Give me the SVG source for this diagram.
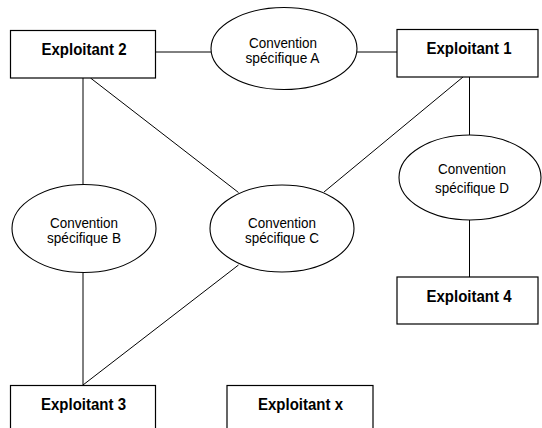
<svg xmlns="http://www.w3.org/2000/svg" width="542" height="428" viewBox="0 0 542 428">
<style>
.box{fill:#fff;stroke:#000;stroke-width:1.2}
.ell{fill:#fff;stroke:#000;stroke-width:1.1}
.conn line{stroke:#000;stroke-width:1}
.b{font-family:"Liberation Sans",Arial,sans-serif;font-weight:bold;font-size:17px;fill:#000;text-anchor:middle}
.r{font-family:"Liberation Sans",Arial,sans-serif;font-size:14.5px;fill:#000;text-anchor:middle}
</style>
<rect width="542" height="428" fill="#fff"/>
<g id="connectors" class="conn">
<line x1="155" y1="52" x2="211" y2="52"/>
<line x1="357" y1="52" x2="397" y2="52"/>
<line x1="83" y1="78" x2="83" y2="184"/>
<line x1="90.5" y1="78" x2="238.5" y2="192.5"/>
<line x1="463" y1="77" x2="324" y2="192"/>
<line x1="469.5" y1="77" x2="469.5" y2="135"/>
<line x1="469.5" y1="220" x2="469.5" y2="277"/>
<line x1="83" y1="273" x2="83" y2="385"/>
<line x1="238.5" y1="265" x2="83" y2="385"/>
</g>
<g id="exploitant2">
<rect class="box" x="10.5" y="30.5" width="145" height="47.5"/>
<text class="b" x="84" y="54.5" textLength="85" lengthAdjust="spacingAndGlyphs">Exploitant 2</text>
</g>
<g id="exploitant1">
<rect class="box" x="397" y="29.5" width="141" height="47.5"/>
<text class="b" x="469" y="54" textLength="85" lengthAdjust="spacingAndGlyphs">Exploitant 1</text>
</g>
<g id="conventionA">
<ellipse class="ell" cx="284" cy="48.5" rx="73" ry="41"/>
<text class="r" x="283" y="47.5" textLength="68" lengthAdjust="spacingAndGlyphs">Convention</text>
<text class="r" x="282.5" y="62.5" textLength="74" lengthAdjust="spacingAndGlyphs">spécifique A</text>
</g>
<g id="conventionB">
<ellipse class="ell" cx="84" cy="228.5" rx="72" ry="44"/>
<text class="r" x="84" y="227.5" textLength="68" lengthAdjust="spacingAndGlyphs">Convention</text>
<text class="r" x="84" y="242.5" textLength="74" lengthAdjust="spacingAndGlyphs">spécifique B</text>
</g>
<g id="conventionC">
<ellipse class="ell" cx="282" cy="228.5" rx="72" ry="43.5"/>
<text class="r" x="282" y="227.5" textLength="68" lengthAdjust="spacingAndGlyphs">Convention</text>
<text class="r" x="282" y="242.5" textLength="74" lengthAdjust="spacingAndGlyphs">spécifique C</text>
</g>
<g id="conventionD">
<ellipse class="ell" cx="470" cy="177.5" rx="71" ry="42.5"/>
<text class="r" x="472" y="174" textLength="68" lengthAdjust="spacingAndGlyphs">Convention</text>
<text class="r" x="472" y="192.5" textLength="74" lengthAdjust="spacingAndGlyphs">spécifique D</text>
</g>
<g id="exploitant4">
<rect class="box" x="397" y="277" width="141" height="47"/>
<text class="b" x="469" y="301.5" textLength="85" lengthAdjust="spacingAndGlyphs">Exploitant 4</text>
</g>
<g id="exploitant3">
<rect class="box" x="10.5" y="385.5" width="145" height="60"/>
<text class="b" x="83.5" y="410" textLength="85" lengthAdjust="spacingAndGlyphs">Exploitant 3</text>
</g>
<g id="exploitantx">
<rect class="box" x="227" y="385.5" width="146" height="60"/>
<text class="b" x="300.5" y="410" textLength="85" lengthAdjust="spacingAndGlyphs">Exploitant x</text>
</g>
</svg>
